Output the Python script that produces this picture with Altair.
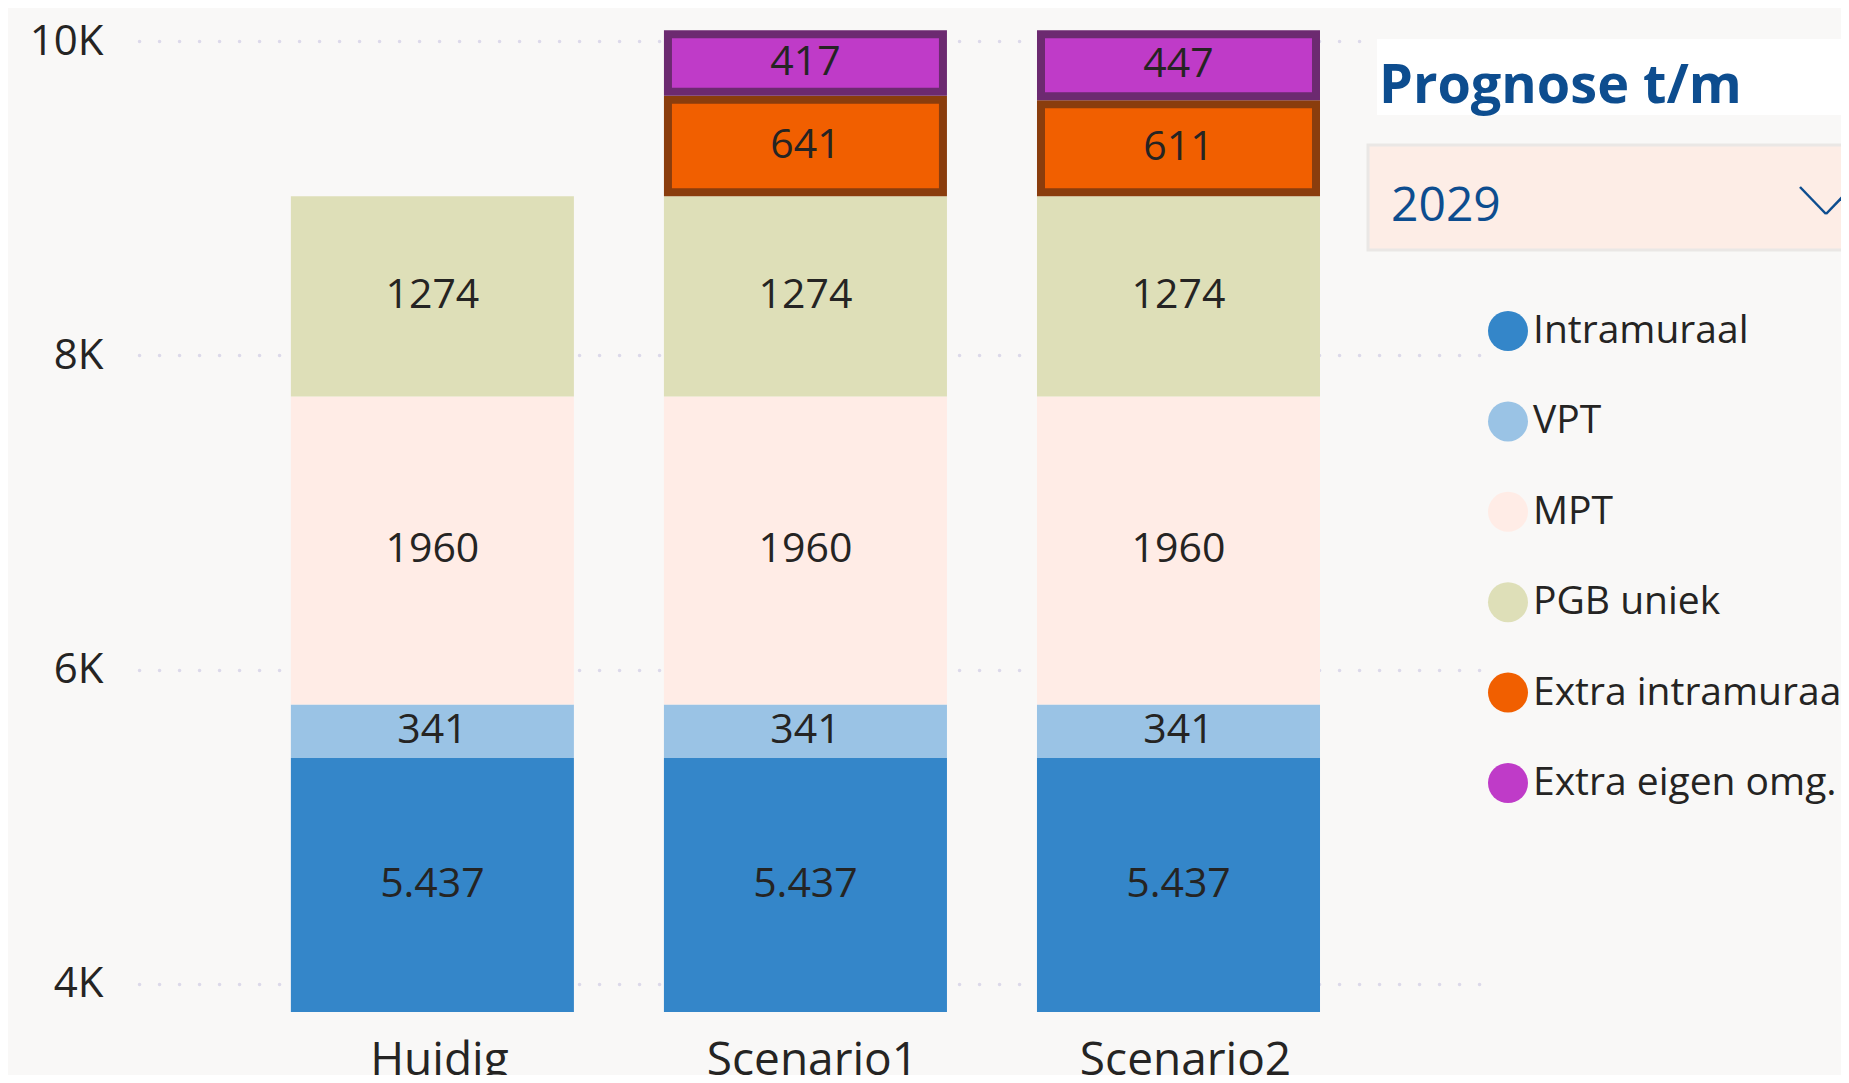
import altair as alt
import pandas as pd

# ---- data ----
scenarios = ["Huidig", "Scenario1", "Scenario2"]
categories = ["Intramuraal", "VPT", "MPT", "PGB uniek", "Extra intramuraal", "Extra eigen omg."]
intramuraal = [5437, 5437, 5437]
vpt = [341, 341, 341]
mpt = [1960, 1960, 1960]
pgb_uniek = [1274, 1274, 1274]
extra_intramuraal = [0, 641, 611]
extra_eigen_omg = [0, 417, 447]
fill_colors = ["#3486C9", "#9AC3E5", "#FFECE6", "#DEDFB8", "#F15F00", "#BF3BC8"]
border_colors = ["#3486C9", "#9AC3E5", "#FFECE6", "#DEDFB8", "#8A3D0D", "#6C2A70"]
y_ticks = [4000, 6000, 8000, 10000]
panel_title = "Prognose t/m"
panel_year = "2029"

series = [intramuraal, vpt, mpt, pgb_uniek, extra_intramuraal, extra_eigen_omg]
rows = []
for i, s in enumerate(scenarios):
    for j, cat in enumerate(categories):
        v = series[j][i]
        if v > 0:
            lab = f"{v:,}".replace(",", ".") if cat == "Intramuraal" else str(v)
            rows.append({"scenario": s, "cat": cat, "order": j, "value": v, "label": lab})
df = pd.DataFrame(rows)

YMIN, YMAX = 3820, 10090
FONT = "Open Sans"
TXT = "#252423"
BLUE = "#0D4D8F"

base = alt.Chart(df).transform_stack(
    stack="value", groupby=["scenario"], as_=["v0", "v1"],
    sort=[alt.SortField("order", order="ascending")]
).transform_calculate(mid=f"(max(datum.v0, {YMIN}) + datum.v1) / 2")

x_enc = alt.X("scenario:N", sort=scenarios,
              scale=alt.Scale(paddingInner=0.2413, paddingOuter=0.418, align=0.487),
              axis=alt.Axis(title=None, labelAngle=0, domain=False, ticks=False,
                            labelFontSize=46, labelFont=FONT, labelColor=TXT,
                            labelPadding=26, labelLimit=600, labelOffset=7))
y_scale = alt.Scale(domain=[YMIN, YMAX], nice=False, zero=False)
y_enc = alt.Y("v1:Q", scale=y_scale,
              axis=alt.Axis(title=None, values=y_ticks, domain=False, ticks=False,
                            labelExpr="datum.value / 1000 + 'K'",
                            labelFontSize=42, labelFont=FONT, labelColor=TXT,
                            labelPadding=36, grid=True, gridColor="#DCD9EA",
                            gridWidth=3.5, gridDash=[0.1, 19.9], gridCap="round"))
legend = alt.Legend(title=None, orient="none", legendX=1349, legendY=284,
                    symbolType="circle", symbolSize=1600, symbolStrokeWidth=0,
                    symbolOpacity=1, labelFontSize=39, labelFont=FONT,
                    labelColor=TXT, labelLimit=600, rowPadding=50.4, labelOffset=5,
                    padding=0, direction="vertical")
color_enc = alt.Color("cat:N", scale=alt.Scale(domain=categories, range=fill_colors),
                      legend=legend)

plain = base.transform_filter("datum.order < 4").mark_bar(clip=True).encode(
    x=x_enc, y=y_enc, y2="v0:Q", color=color_enc)

bordered = base.transform_filter("datum.order >= 4").mark_bar(
    clip=True, size=275, strokeWidth=8, yOffset=4, y2Offset=-4).encode(
    x=x_enc, y=y_enc, y2="v0:Q", color=color_enc,
    stroke=alt.Stroke("cat:N", scale=alt.Scale(domain=categories, range=border_colors),
                      legend=None))

labels = base.mark_text(fontSize=41, font=FONT, color=TXT, baseline="middle").encode(
    x=x_enc, y=alt.Y("mid:Q", scale=y_scale), text="label:N")

# ---- slicer panel decoration ----
t_df = pd.DataFrame({"t": [panel_title]})
yr_df = pd.DataFrame({"t": [panel_year]})
title_box = alt.Chart(t_df).mark_rect(fill="white").encode(
    x=alt.value(1238), x2=alt.value(1720), y=alt.value(12), y2=alt.value(88))
title_txt = alt.Chart(t_df).mark_text(align="left", baseline="alphabetic", fontSize=54,
                                      fontWeight="bold", font=FONT, color=BLUE).encode(
    x=alt.value(1240), y=alt.value(76), text="t:N")
drop_box = alt.Chart(yr_df).mark_rect(fill="#FDEDE6", stroke="#EAE7E5", strokeWidth=3).encode(
    x=alt.value(1229), x2=alt.value(1720), y=alt.value(118), y2=alt.value(223))
drop_txt = alt.Chart(yr_df).mark_text(align="left", baseline="alphabetic", fontSize=48,
                                      font=FONT, color=BLUE).encode(
    x=alt.value(1252), y=alt.value(194), text="t:N")
chev1 = alt.Chart(yr_df).mark_rule(color=BLUE, strokeWidth=2.5).encode(
    x=alt.value(1661), y=alt.value(160), x2=alt.value(1687), y2=alt.value(187))
chev2 = alt.Chart(yr_df).mark_rule(color=BLUE, strokeWidth=2.5).encode(
    x=alt.value(1687), y=alt.value(187), x2=alt.value(1713), y2=alt.value(160))

chart = alt.layer(plain, bordered, labels, title_box, title_txt, drop_box, drop_txt,
                  chev1, chev2).properties(
    width=1341, height=985,
    autosize=alt.AutoSizeParams(type="none"),
    padding={"left": 131, "top": 19, "right": 361, "bottom": 63},
    background="#F9F8F7",
).configure_view(stroke=None)

chart.save("out.html", embed_options={"renderer": "svg", "actions": False})
